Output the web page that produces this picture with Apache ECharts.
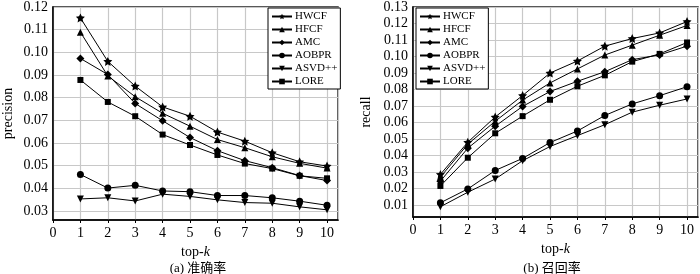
<!DOCTYPE html>
<html>
<head>
<meta charset="utf-8">
<script src="https://cdn.jsdelivr.net/npm/echarts@6/dist/echarts.min.js"></script>
<style>
  html, body { margin: 0; padding: 0; background: #fff; }
  #main { width: 700px; height: 274px; }
</style>
</head>
<body>
<div id="main"></div>
<script>
// top-k values on the x axis
var topK = [1, 2, 3, 4, 5, 6, 7, 8, 9, 10];
var names = ['HWCF', 'HFCF', 'AMC', 'AOBPR', 'ASVD++', 'LORE'];

// (a) precision
var precHWCF  = [0.1152, 0.0960, 0.0851, 0.0759, 0.0718, 0.0648, 0.0608, 0.0557, 0.0517, 0.0498];
var precHFCF  = [0.1089, 0.0896, 0.0804, 0.0731, 0.0674, 0.0615, 0.0579, 0.0539, 0.0510, 0.0489];
var precAMC   = [0.0973, 0.0902, 0.0774, 0.0698, 0.0624, 0.0566, 0.0522, 0.0491, 0.0456, 0.0434];
var precAOBPR = [0.0461, 0.0401, 0.0413, 0.0388, 0.0385, 0.0368, 0.0368, 0.0358, 0.0343, 0.0325];
var precASVD  = [0.0353, 0.0358, 0.0344, 0.0374, 0.0364, 0.0349, 0.0337, 0.0334, 0.0318, 0.0305];
var precLORE  = [0.0878, 0.0781, 0.0718, 0.0637, 0.0591, 0.0547, 0.0509, 0.0487, 0.0455, 0.0444];

// (b) recall
var recHWCF  = [0.0286, 0.0481, 0.0634, 0.0764, 0.0900, 0.0973, 0.1063, 0.1109, 0.1143, 0.1212];
var recHFCF  = [0.0270, 0.0469, 0.0608, 0.0736, 0.0840, 0.0925, 0.1009, 0.1069, 0.1129, 0.1188];
var recAMC   = [0.0245, 0.0445, 0.0578, 0.0698, 0.0788, 0.0850, 0.0908, 0.0981, 0.1010, 0.1063];
var recAOBPR = [0.0114, 0.0198, 0.0310, 0.0383, 0.0479, 0.0549, 0.0643, 0.0713, 0.0763, 0.0817];
var recASVD  = [0.0090, 0.0178, 0.0258, 0.0369, 0.0455, 0.0521, 0.0587, 0.0663, 0.0705, 0.0743];
var recLORE  = [0.0216, 0.0387, 0.0535, 0.0639, 0.0738, 0.0820, 0.0886, 0.0969, 0.1016, 0.1085];

// tick labels
var xTicks = [0, 1, 2, 3, 4, 5, 6, 7, 8, 9, 10];
var precTicks = [0.03, 0.04, 0.05, 0.06, 0.07, 0.08, 0.09, 0.10, 0.11, 0.12];
var recTicks = [0.01, 0.02, 0.03, 0.04, 0.05, 0.06, 0.07, 0.08, 0.09, 0.10, 0.11, 0.12, 0.13];

var starPath = 'path://M0,-10L2.9,-4L9.5,-3.1L4.7,1.5L5.9,8.1L0,5L-5.9,8.1L-4.7,1.5L-9.5,-3.1L-2.9,-4Z';
var markers = [
	{ symbol: starPath, size: 9, rotate: 0 },
	{ symbol: 'triangle', size: 7, rotate: 0 },
	{ symbol: 'diamond', size: 8, rotate: 0 },
	{ symbol: 'circle', size: 7, rotate: 0 },
	{ symbol: 'triangle', size: 7, rotate: 180 },
	{ symbol: 'rect', size: 6, rotate: 0 }
];

var serif = '"Liberation Serif", "DejaVu Serif", serif';
var cjk = '"Liberation Serif", "Noto Sans CJK SC", serif';

function pairs(arr) {
	return arr.map(function (v, i) { return [topK[i], v]; });
}

function makeSeries(idx, lists) {
	return lists.map(function (arr, i) {
		return {
			name: names[i],
			type: 'line',
			xAxisIndex: idx,
			yAxisIndex: idx,
			data: pairs(arr),
			symbol: markers[i].symbol,
			symbolSize: markers[i].size,
			symbolRotate: markers[i].rotate,
			showAllSymbol: true,
			animation: false,
			lineStyle: { color: '#000', width: 1 },
			itemStyle: { color: '#000' }
		};
	});
}

function xAxisCfg(idx) {
	return {
		type: 'value',
		gridIndex: idx,
		min: 0,
		max: 10.4,
		interval: 1,
		name: '{a|top-}{b|k}',
		nameLocation: 'middle',
		nameGap: 20,
		nameTextStyle: {
			rich: {
				a: { fontFamily: serif, fontSize: 14, color: '#000' },
				b: { fontFamily: serif, fontSize: 14, color: '#000', fontStyle: 'italic' }
			}
		},
		axisLine: { onZero: false, lineStyle: { color: '#000', width: 1.5 } },
		axisTick: { show: true, length: 3, lineStyle: { color: '#000' } },
		axisLabel: {
			fontFamily: serif, fontSize: 14, color: '#000', margin: 6,
			showMaxLabel: false,
			formatter: function (v) { return xTicks.indexOf(v) >= 0 ? String(v) : ''; }
		},
		splitLine: { show: true, lineStyle: { color: '#c8c8c8', width: 1.2 } }
	};
}

function yAxisCfg(idx, min, max, ticks, label, gap) {
	return {
		type: 'value',
		gridIndex: idx,
		min: min,
		max: max,
		name: label,
		nameLocation: 'middle',
		nameGap: gap,
		nameTextStyle: { fontFamily: serif, fontSize: 14, color: '#000' },
		axisLine: { show: true, lineStyle: { color: '#000', width: 1.5 } },
		axisTick: { show: false, customValues: ticks },
		axisLabel: {
			fontFamily: serif, fontSize: 14, color: '#000', margin: 5,
			customValues: ticks,
			formatter: function (v) { return v.toFixed(2); }
		},
		splitLine: { show: true, lineStyle: { color: '#c8c8c8', width: 1.2 } }
	};
}

function legendCfg(left) {
	return {
		data: names,
		orient: 'vertical',
		left: left,
		top: 8,
		itemWidth: 20,
		itemHeight: 7,
		itemGap: 2,
		padding: [3, 3, 2, 3],
		backgroundColor: '#fff',
		borderColor: '#000',
		borderWidth: 1,
		textStyle: { fontFamily: serif, fontSize: 11, color: '#000', padding: [0, 0, 0, -2] }
	};
}

var myChart = echarts.init(document.getElementById('main'));
myChart.setOption({
	backgroundColor: '#fff',
	animation: false,
	title: [
		{ text: '(a) 准确率', left: 193, top: 257, textAlign: 'center',
		  textStyle: { fontFamily: cjk, fontSize: 13, fontWeight: 'normal', color: '#000' } },
		{ text: '(b) 召回率', left: 547, top: 257, textAlign: 'center',
		  textStyle: { fontFamily: cjk, fontSize: 13, fontWeight: 'normal', color: '#000' } }
	],
	legend: [
		Object.assign(legendCfg(268), { id: 'l0' }),
		Object.assign(legendCfg(416), { id: 'l1' })
	],
	grid: [
		{ left: 49, top: 6, right: 362, bottom: 54, show: true, borderColor: '#222', borderWidth: 1.5 },
		{ left: 413, top: 5, right: 2, bottom: 57, show: true, borderColor: '#222', borderWidth: 1.5 }
	],
	xAxis: [xAxisCfg(0), xAxisCfg(1)],
	yAxis: [
		yAxisCfg(0, 0.026, 0.12, precTicks, 'precision', 38),
		yAxisCfg(1, 0.0028, 0.13, recTicks, 'recall', 40)
	],
	series: makeSeries(0, [precHWCF, precHFCF, precAMC, precAOBPR, precASVD, precLORE])
		.concat(makeSeries(1, [recHWCF, recHFCF, recAMC, recAOBPR, recASVD, recLORE]))
});
</script>
</body>
</html>
